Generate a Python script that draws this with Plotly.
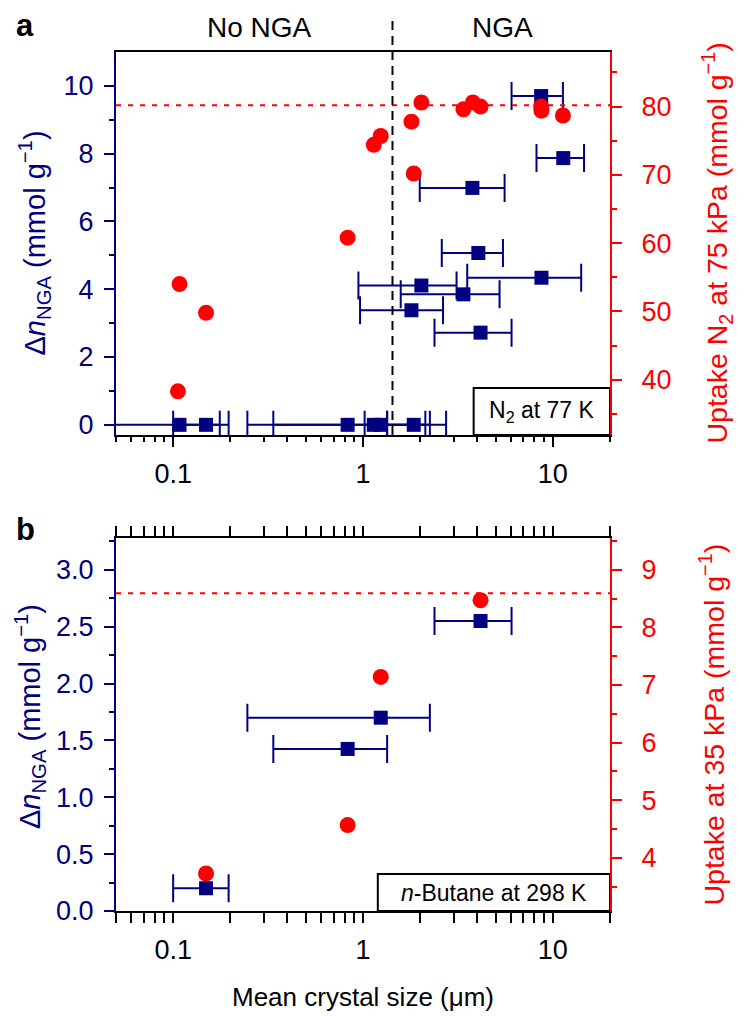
import math
import plotly.graph_objects as go

# ---------------- data: panel a (N2 at 77 K) ----------------
a_sq_size = [0.108, 0.149, 0.83, 1.14, 1.24, 1.85, 1.80, 2.03, 3.38, 3.77, 4.05, 4.16, 8.68, 8.71, 11.35]
a_sq_lo = [0.03, 0.10, 0.337, 1.02, 0.246, 1.34, 0.965, 0.946, 1.58, 1.99, 2.60, 2.38, 6.06, 3.54, 8.20]
a_sq_hi = [0.176, 0.196, 1.34, 2.13, 2.25, 2.74, 2.64, 3.11, 5.24, 5.57, 5.46, 6.06, 11.3, 14.1, 14.6]
a_dn = [0, 0, 0, 0, 0, 0, 3.38, 4.11, 3.85, 6.99, 5.07, 2.72, 9.70, 4.34, 7.87]

a_ci_size = [0.106, 0.108, 0.149, 0.83, 1.14, 1.24, 1.80, 1.85, 2.03, 3.38, 3.79, 4.16, 8.68, 8.71, 11.3]
a_uptake = [38.3, 54.0, 49.8, 60.8, 74.4, 75.7, 77.8, 70.2, 80.6, 79.6, 80.6, 80.0, 80.0, 79.4, 78.7]
a_ref_uptake = 80.2
nga_threshold = 1.43

# ---------------- data: panel b (n-butane at 298 K) ----------------
b_sq_size = [0.149, 0.83, 1.24, 4.16]
b_sq_lo = [0.10, 0.337, 0.246, 2.38]
b_sq_hi = [0.196, 1.34, 2.25, 6.06]
b_dn = [0.20, 1.425, 1.70, 2.55]

b_ci_size = [0.149, 0.83, 1.24, 4.16]
b_uptake = [3.73, 4.57, 7.14, 8.47]
b_ref_uptake = 8.59

# ---------------- tick labels ----------------
x_ticks = [0.1, 1, 10]
x_ticktext = ["0.1", "1", "10"]

NAVY = "#000080"
RED = "#ff0000"
FONT = "Liberation Sans, Arial, Helvetica, sans-serif"
TICK_FS = 27
TITLE_FS = 28.5

# ---------------- geometry (pixels) ----------------
W, H = 754, 1016
L, R = 108, 152
T, B = 44, 113
PW = W - L - R               # plot width
PH = H - T - B               # paper height
A_TOP, A_BOT = 44, 427       # panel a frame (px from top)
B_TOP, B_BOT = 530, 903      # panel b frame
AH, BH = A_BOT - A_TOP, B_BOT - B_TOP

DA = [1 - (A_BOT - T) / PH, 1 - (A_TOP - T) / PH]
DB = [1 - (B_BOT - T) / PH, 1 - (B_TOP - T) / PH]

x_minor = [m * 10 ** e for e in (-2, -1, 0, 1) for m in range(2, 10)
           if 0.05 <= m * 10 ** e <= 20]


def errs(x, lo, hi):
    return ([h - v for v, h in zip(x, hi)], [v - l for v, l in zip(x, lo)])


fig = go.Figure()

# panel a: squares (left axis) then circles (right axis, drawn on top)
pa, ma = errs(a_sq_size, a_sq_lo, a_sq_hi)
fig.add_trace(go.Scatter(
    x=a_sq_size, y=a_dn, mode="markers", xaxis="x", yaxis="y",
    marker=dict(symbol="square", size=14, color=NAVY),
    error_x=dict(type="data", symmetric=False, array=pa, arrayminus=ma,
                 color=NAVY, thickness=2, width=14),
    showlegend=False))
fig.add_trace(go.Scatter(
    x=a_ci_size, y=a_uptake, mode="markers", xaxis="x", yaxis="y2",
    marker=dict(symbol="circle", size=16, color=RED),
    showlegend=False))

# panel b: circles (base, right axis) then squares (overlay, left axis, on top)
fig.add_trace(go.Scatter(
    x=b_ci_size, y=b_uptake, mode="markers", xaxis="x2", yaxis="y3",
    marker=dict(symbol="circle", size=16, color=RED),
    showlegend=False))
pb, mb = errs(b_sq_size, b_sq_lo, b_sq_hi)
fig.add_trace(go.Scatter(
    x=b_sq_size, y=b_dn, mode="markers", xaxis="x2", yaxis="y4",
    marker=dict(symbol="square", size=14, color=NAVY),
    error_x=dict(type="data", symmetric=False, array=pb, arrayminus=mb,
                 color=NAVY, thickness=2, width=14),
    showlegend=False))

xr = [math.log10(0.05), math.log10(20)]
common_x = dict(type="log", range=xr, showgrid=False, zeroline=False,
                showline=True, linecolor="black", linewidth=2,
                ticks="outside", ticklen=10, tickwidth=2, tickcolor="black",
                tickvals=x_ticks, ticktext=x_ticktext, ticklabelstandoff=4,
                tickfont=dict(size=TICK_FS, color="black"),
                minor=dict(tickvals=x_minor, ticks="outside", ticklen=5,
                           tickwidth=1.5, tickcolor="black", showgrid=False))


def yax(color, rng, major, minor, side, standoff, fmt=None, **kw):
    d = dict(range=rng, showgrid=False, zeroline=False, showline=True,
             linecolor=color, linewidth=2, ticks="outside", ticklen=10,
             tickwidth=2, tickcolor=color, tickvals=major, side=side,
             ticklabelstandoff=standoff,
             tickfont=dict(size=TICK_FS, color=color),
             minor=dict(tickvals=minor, ticks="outside", ticklen=5,
                        tickwidth=1.5, tickcolor=color, showgrid=False))
    if fmt:
        d["tickformat"] = fmt
    d.update(kw)
    return d


fig.update_layout(
    width=W, height=H,
    margin=dict(l=L, r=R, t=T, b=B),
    paper_bgcolor="white", plot_bgcolor="white",
    font=dict(family=FONT, size=TICK_FS, color="black"),
    xaxis=dict(common_x, domain=[0, 1], anchor="y", mirror=True),
    xaxis2=dict(common_x, domain=[0, 1], anchor="y3", mirror="allticks"),
    yaxis=yax(NAVY, [-0.3, 11.0], [0, 2, 4, 6, 8, 10], [1, 3, 5, 7, 9],
              "left", 5, domain=DA, anchor="x"),
    yaxis2=yax(RED, [31.9, 88.0], [40, 50, 60, 70, 80], [35, 45, 55, 65, 75, 85],
               "right", 14, overlaying="y", anchor="x"),
    yaxis3=yax(RED, [3.08, 9.55], [4, 5, 6, 7, 8, 9], [3.5, 4.5, 5.5, 6.5, 7.5, 8.5, 9.5],
               "right", 14, domain=DB, anchor="x2"),
    yaxis4=yax(NAVY, [0, 3.28], [0, 0.5, 1.0, 1.5, 2.0, 2.5, 3.0],
               [0.25, 0.75, 1.25, 1.75, 2.25, 2.75, 3.25],
               "left", 5, fmt=".1f", overlaying="y3", anchor="x2"),
)

# reference lines
fig.add_shape(type="line", xref="x domain", yref="y2", x0=0, x1=1,
              y0=a_ref_uptake, y1=a_ref_uptake,
              line=dict(color=RED, width=2, dash="5px,7px"))
fig.add_shape(type="line", xref="x2 domain", yref="y3", x0=0, x1=1,
              y0=b_ref_uptake, y1=b_ref_uptake,
              line=dict(color=RED, width=2, dash="5px,7px"))
fig.add_shape(type="line", xref="x", yref="y domain", x0=nga_threshold, x1=nga_threshold,
              y0=0, y1=1 + 37 / AH, line=dict(color="black", width=2, dash="9px,6px"))

# condition boxes
box_a = dict(x0=0.724, y1=47 / AH)
box_b = dict(x0=0.53, y1=37 / BH)
fig.add_shape(type="rect", xref="x domain", yref="y domain", x0=box_a["x0"], x1=1,
              y0=0, y1=box_a["y1"], line=dict(color="black", width=2),
              fillcolor="white", layer="below")
fig.add_shape(type="rect", xref="x2 domain", yref="y3 domain", x0=box_b["x0"], x1=1,
              y0=0, y1=box_b["y1"], line=dict(color="black", width=2),
              fillcolor="white", layer="below")

left_title = "Δ<i>n</i><sub>NGA</sub> (mmol g<sup>−1</sup>)"

ann = [
    dict(text="N<sub>2</sub> at 77 K", xref="x domain", yref="y domain",
         x=(1 + box_a["x0"]) / 2, y=box_a["y1"] / 2, font=dict(size=23)),
    dict(text="<i>n</i>-Butane at 298 K", xref="x2 domain", yref="y3 domain",
         x=(1 + box_b["x0"]) / 2, y=box_b["y1"] / 2, font=dict(size=23)),
    dict(text="No NGA", xref="x domain", yref="y domain", x=0.29, y=1 + 25 / AH,
         font=dict(size=28)),
    dict(text="NGA", xref="x domain", yref="y domain", x=0.782, y=1 + 25 / AH,
         font=dict(size=28)),
    dict(text="<b>a</b>", xref="paper", yref="paper", x=(7 - L) / PW, y=1 + (T - 18) / PH,
         xanchor="left", borderpad=0, font=dict(size=31)),
    dict(text="<b>b</b>", xref="paper", yref="paper", x=(7 - L) / PW, y=1 - (521 - T) / PH,
         xanchor="left", borderpad=0, font=dict(size=31)),
    # axis titles
    dict(text=left_title, xref="x domain", yref="y domain", x=-81 / PW, y=0.5,
         textangle=-90, font=dict(size=29, color=NAVY)),
    dict(text="Uptake N<sub>2</sub> at 75 kPa (mmol g<sup>−1</sup>)", xref="x domain",
         yref="y domain", x=1 + 108 / PW, y=0.5, textangle=-90,
         font=dict(size=TITLE_FS, color=RED)),
    dict(text=left_title, xref="x2 domain", yref="y3 domain", x=-86 / PW, y=0.52,
         textangle=-90, font=dict(size=29, color=NAVY)),
    dict(text="Uptake at 35 kPa (mmol g<sup>−1</sup>)", xref="x2 domain",
         yref="y3 domain", x=1 + 102 / PW, y=0.5, textangle=-90,
         font=dict(size=TITLE_FS, color=RED)),
    dict(text="Mean crystal size (μm)", xref="x2 domain", yref="y3 domain",
         x=0.5, y=-86 / BH, font=dict(size=26)),
]
for a in ann:
    a.setdefault("showarrow", False)
    a.setdefault("xanchor", "center")
    a.setdefault("yanchor", "middle")
    a["font"].setdefault("color", "black")
    a["font"]["family"] = FONT
    fig.add_annotation(**a)

fig.write_html("out.html")
